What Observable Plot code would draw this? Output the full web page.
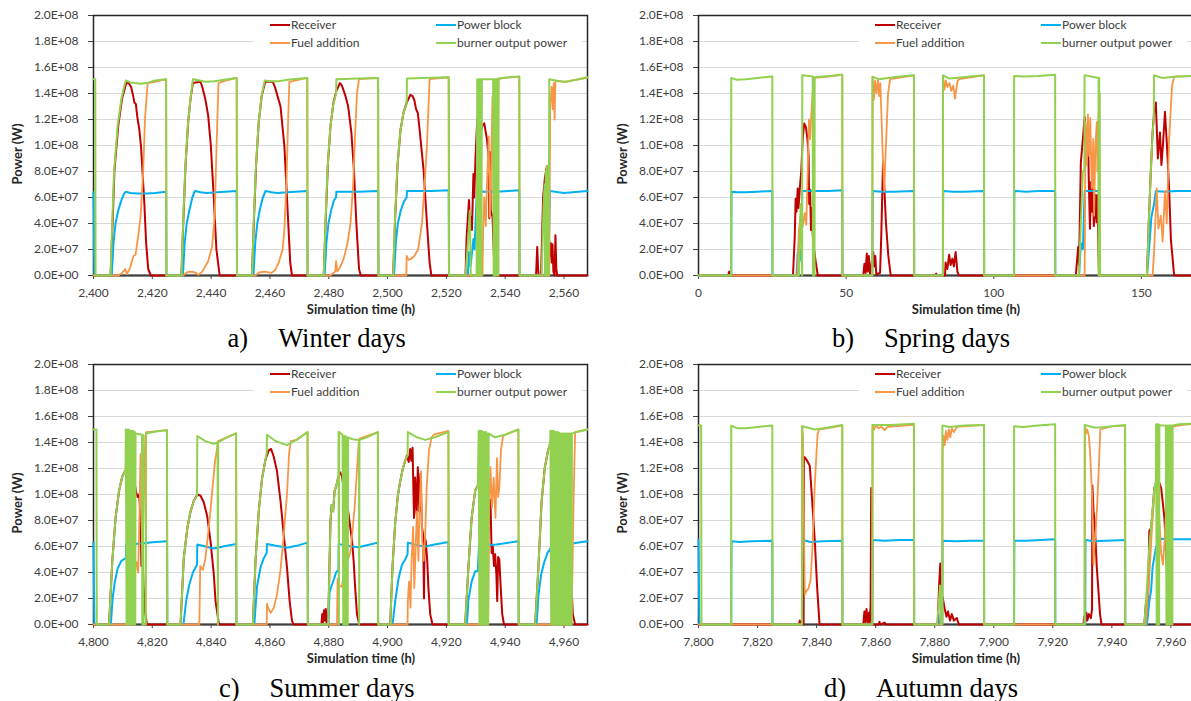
<!DOCTYPE html>
<html>
<head>
<meta charset="utf-8">
<script src="https://cdn.jsdelivr.net/npm/d3@7"></script>
<script src="https://cdn.jsdelivr.net/npm/@observablehq/plot@0.6"></script>
<style>
  html, body { margin: 0; padding: 0; background: #fff; }
  body { width: 1191px; height: 701px; overflow: hidden; position: relative; font-family: Lato, "Open Sans", sans-serif; }
  .panel { position: absolute; }
  .panel svg { max-width: none !important; }
  .legend { position: absolute; background: #fff; height: 34px; width: 328px; }
  .sw { position: absolute; width: 20px; height: 2px; }
  .lt { position: absolute; font-size: 12px; color: #404040; line-height: 16px; white-space: nowrap; }
  .ytitle { position: absolute; font-weight: bold; font-size: 13px; color: #262626; transform: translate(-50%, -50%) rotate(-90deg); white-space: nowrap; }
  .xtitle { position: absolute; font-weight: bold; font-size: 13px; color: #262626; transform: translate(-50%, -50%); white-space: nowrap; }
  .caption { position: absolute; width: 440px; text-align: center; font-family: "Liberation Serif", "Times New Roman", serif; font-size: 26.5px; line-height: 30px; color: #000; white-space: nowrap; }
  .caption .gap { display: inline-block; width: 30px; }
</style>
</head>
<body>
<script>
// ---------------- data (power values in units of 1E+07 W) ----------------
const seriesNames = ["Receiver", "Power block", "Fuel addition", "burner output power"];
const seriesColors = ["#c00000", "#00b0f0", "#f79646", "#92d050"];
const powerTicks = [0, 2e7, 4e7, 6e7, 8e7, 1e8, 1.2e8, 1.4e8, 1.6e8, 1.8e8, 2e8];
const gridPower = [2e7, 4e7, 6e7, 8e7, 1e8, 1.2e8, 1.4e8, 1.6e8, 1.8e8];
const winterHours = [2400, 2420, 2440, 2460, 2480, 2500, 2520, 2540, 2560];
const springHours = [0, 50, 100, 150];
const summerHours = [4800, 4820, 4840, 4860, 4880, 4900, 4920, 4940, 4960];
const autumnHours = [7800, 7820, 7840, 7860, 7880, 7900, 7920, 7940, 7960];
const captionLetters = ["a)", "b)", "c)", "d)"];
const captionTexts = ["Winter days", "Spring days", "Summer days", "Autumn days"];

// ----- a) Winter -----
const winterReceiver = [
[2400,0],[2405.8,0],[2406.5,4],[2407.1,8],[2408.4,11.5],[2409.7,13.6],[2411.0,14.7],[2411.7,14.9],[2412.8,14.5],[2413.5,13.8],[2413.9,13.3],[2414.4,13.2],[2414.9,12.2],[2415.6,11.2],[2416.2,9.8],[2416.8,7.5],[2417.3,5.5],[2417.9,2.5],[2418.6,0.5],[2419.5,0],
[2429.9,0],[2430.6,4.5],[2431.3,8.5],[2432.2,11.8],[2433.0,13.6],[2433.8,14.8],[2436.4,14.9],[2437.0,14.5],[2438.0,13.6],[2439.0,12.3],[2439.9,10],[2440.9,6],[2441.8,2],[2442.9,0],
[2453.9,0],[2454.6,4.5],[2455.3,8.5],[2456.2,11.8],[2457.2,13.8],[2458.4,14.9],[2461.0,14.9],[2461.7,14.5],[2462.6,13.8],[2463.6,13.0],[2464.9,10],[2465.8,6],[2466.9,1],[2467.5,0],
[2478.3,0],[2479.0,4.5],[2479.7,8.5],[2480.6,11.5],[2481.6,13.3],[2482.6,14.2],[2483.8,14.8],[2484.5,14.6],[2485.1,14.2],[2485.7,13.8],[2486.6,13.0],[2487.7,11.0],[2488.6,8.0],[2489.4,4.0],[2490.3,0.5],[2490.9,0],
[2501.9,0],[2502.6,4.5],[2503.4,8.5],[2504.4,11.2],[2505.5,12.6],[2506.5,13.3],[2507.8,13.9],[2508.5,13.8],[2509.1,13.5],[2509.7,12.8],[2510.3,12.5],[2511.0,11.0],[2512.3,8.0],[2513.4,4.0],[2514.3,1.0],[2514.9,0],
[2526.5,0],[2526.9,3],[2527.7,5.8],[2528.0,4.2],[2528.3,4.5],[2528.7,3.5],[2529.2,7.8],[2529.5,6.0],[2529.9,9],[2530.5,12.0],[2530.9,11.5],[2531.6,11.0],[2532.2,11.5],[2532.9,11.7],[2533.4,11.0],[2533.8,10.5],[2534.4,9.0],[2534.6,4.4],[2534.8,9.5],[2535.1,5.0],[2535.7,4.5],[2536.1,2.0],[2536.4,0.5],[2537,0],
[2550.5,0],[2550.9,2.2],[2551.2,0.5],[2551.4,0],[2552.2,0],[2552.9,6.0],[2553.5,7.5],[2554.2,8.4],[2554.5,8.0],[2554.8,3],[2555.2,1.5],[2555.5,2.5],[2555.8,1.0],[2556.1,2.4],[2556.4,0.3],[2556.8,0],[2557.1,3.1],[2557.4,0.5],[2557.7,0],[2568,0]
];
const winterPowerBlock = [
[2400,6.4],[2400.3,0],[2406.2,0],[2406.8,2.5],[2407.5,4.0],[2408.4,5.0],[2409.5,5.8],[2410.4,6.3],[2411.0,6.45],[2412.5,6.35],[2415,6.3],[2418,6.3],[2421,6.35],[2424.7,6.45],[2424.8,0],
[2430.4,0],[2431.0,2.5],[2431.7,4.0],[2432.6,5.0],[2433.6,6.0],[2434.5,6.5],[2436.5,6.4],[2438.5,6.35],[2442,6.4],[2448.7,6.5],[2448.8,0],
[2454.4,0],[2455.0,2.5],[2455.7,4.0],[2456.6,5.1],[2457.6,6.0],[2458.5,6.5],[2460.5,6.4],[2462.5,6.35],[2466,6.4],[2472.7,6.5],[2472.8,0],
[2478.6,0],[2479.2,2.5],[2479.9,4.0],[2480.8,5.0],[2481.8,5.8],[2482.5,6.0],[2482.6,6.45],[2486,6.45],[2490,6.45],[2496.8,6.5],[2496.9,0],
[2502.2,0],[2502.8,2.5],[2503.5,4.0],[2504.5,5.0],[2505.6,5.7],[2506.5,6.0],[2506.6,6.5],[2510,6.5],[2515,6.5],[2520.8,6.55],[2520.9,0],
[2527.3,0],[2527.7,1.8],[2528.2,0.7],[2528.6,1.5],[2529.2,2.8],[2529.6,2.0],[2530.0,4.5],[2530.4,6.5],[2533,6.45],[2537,6.45],[2541,6.5],[2544.8,6.55],[2544.9,0],
[2553.6,0],[2554.0,2.2],[2554.4,3.0],[2554.8,1.5],[2555.2,6.5],[2557,6.45],[2560,6.35],[2563,6.4],[2568,6.5]
];
const winterFuel = [
[2400,0],[2408.4,0],[2409.7,0.2],[2410.8,0.5],[2411.3,0.1],[2412.3,0.5],[2413.6,1.5],[2414.3,1.6],[2415.2,3.0],[2416.0,4.5],[2416.9,8],[2417.5,12],[2418.4,14.8],[2421,14.9],[2424.7,15.1],[2424.8,0],
[2430.5,0],[2431.5,0.2],[2432.5,0.3],[2434.4,0.25],[2435.7,0.05],[2437.0,0.3],[2439.0,1.1],[2440.3,2.2],[2441.2,4.5],[2441.8,9.6],[2442.5,14.8],[2445,15.0],[2448.7,15.2],[2448.8,0],
[2455,0],[2456.5,0.25],[2458.4,0.3],[2460.4,0.2],[2461.7,0.4],[2463.0,1.0],[2464.3,2.0],[2464.9,3.5],[2465.6,7],[2466.2,12],[2466.6,14.9],[2472.7,15.2],[2472.8,0],
[2480.5,0],[2482.2,0.3],[2482.5,1.1],[2482.9,0.3],[2483.8,0.6],[2485.1,1.3],[2486.4,2.5],[2487.4,4],[2488.3,7],[2489,11],[2489.6,14],[2490.3,15.1],[2496.8,15.2],[2496.9,0],
[2505.2,0],[2506.4,0],[2506.5,1.5],[2507.2,1.2],[2507.8,1.25],[2509.1,1.5],[2510.4,2.0],[2511.7,4],[2512.6,7],[2513.4,10],[2514.3,15.1],[2520.8,15.25],[2520.9,0],
[2532.3,0],[2532.5,3.5],[2532.9,6],[2533.4,3.8],[2533.8,7],[2534.4,10.7],[2534.8,4.5],[2535.2,8],[2535.7,13.8],[2536.1,5],[2536.5,9],[2537.0,15.1],[2540,15.2],[2544.8,15.3],[2544.9,0],
[2555.0,0],[2555.3,13],[2555.8,14.5],[2556.2,12.8],[2556.5,14.8],[2556.8,12],[2557.1,15.0],[2560,14.9],[2568,15.2]
];
const winterBurner = [
[2400,15.1],[2400.6,15.1],[2400.7,0],[2405.8,0],[2406.4,4.2],[2407.0,8],[2408.2,11.5],[2409.5,13.6],[2410.5,14.6],[2411.0,15.0],[2412.5,14.85],[2414,14.8],[2416,14.75],[2418,14.8],[2421,15.0],[2424.7,15.1],[2424.8,0],
[2429.9,0],[2430.5,4.2],[2431.2,8.2],[2432.1,11.6],[2433.0,13.6],[2433.8,15.1],[2436,15.0],[2438,14.9],[2441,14.95],[2448.7,15.2],[2448.8,0],
[2453.9,0],[2454.5,4.2],[2455.2,8.2],[2456.1,11.6],[2457.1,13.7],[2458.2,15.0],[2460,14.95],[2463,14.95],[2466,15.05],[2472.7,15.2],[2472.8,0],
[2478.3,0],[2478.9,4.2],[2479.6,8.2],[2480.5,11.3],[2481.5,13.1],[2482.5,14.0],[2482.6,15.1],[2490,15.15],[2496.8,15.2],[2496.9,0],
[2501.9,0],[2502.5,4.2],[2503.3,8.2],[2504.3,11.0],[2505.4,12.5],[2506.5,13.2],[2506.6,15.15],[2512,15.2],[2520.8,15.25],[2520.9,0],
[2526.5,0],[2527.3,2.5],[2528.0,5.0],[2528.3,0],[2530.3,0],[2530.5,15.1],[2530.7,0],[2530.9,15.1],[2531.1,0],[2531.3,15.1],[2531.5,0],[2531.7,15.1],[2531.9,0],[2532.1,15.1],[2535.9,15.1],[2536.1,0],[2536.3,15.1],[2536.5,0],[2536.7,15.1],[2536.9,0],[2537.1,15.1],[2537.3,0],[2537.5,15.1],[2537.7,0],[2537.8,15.15],[2541,15.25],[2544.8,15.3],[2544.9,0],
[2552.4,0],[2553.0,5],[2553.4,7],[2553.6,0],[2553.8,8],[2554.0,0],[2554.2,8.4],[2554.4,0],[2554.6,7],[2554.8,0],[2555.0,15.1],[2558,14.95],[2561,14.9],[2564,15.05],[2568,15.25]
];

// ----- b) Spring -----
const springReceiver = [
[0,0],[10.0,0],[10.4,0.3],[10.8,0],[32.0,0],[32.6,3],[32.9,5.9],[33.2,4.9],[33.6,6.7],[33.9,5.2],[34.3,6.7],[34.8,8],[35.3,10.5],[35.8,11.7],[36.4,11.4],[36.9,10.5],[37.3,9.2],[37.5,5.5],[37.8,6.6],[38.1,3.5],[38.4,5.2],[38.7,3.1],[39.1,2.1],[39.6,1.2],[40.4,0],
[55.8,0],[56.2,0.9],[56.6,0.2],[57.0,1.7],[57.3,0.3],[57.7,1.5],[58.1,0.1],[59.2,1.8],[59.5,0.7],[59.9,1.5],[60.2,0.1],[61.5,0.2],[61.9,3],[62.5,8.7],[62.9,7],[63.5,4],[64.3,1.5],[65.1,0],
[80.2,0],[80.5,0.15],[80.8,0],[83.5,0],[83.7,1.0],[84.3,0.5],[84.9,1.6],[85.4,0.8],[86.0,1.3],[86.5,0.7],[87.1,1.8],[87.7,0.3],[88.2,0],
[127.8,0],[128.6,2.2],[128.9,0.8],[129.5,8.7],[130.2,10.5],[130.8,12.2],[131.3,9.8],[131.6,10.5],[131.9,11.5],[132.2,7.2],[132.6,3.6],[132.9,7.2],[133.2,4.9],[133.6,6.7],[133.9,3.8],[134.4,6.2],[134.8,4.1],[135.1,6.2],[135.6,0.5],[136.0,0],
[151.9,0],[152.5,4],[153.2,8],[153.8,11],[154.3,12.5],[154.9,13.3],[155.6,9],[156.3,11],[156.8,8.5],[157.3,10],[158.0,12.6],[158.6,10.3],[159.0,8.5],[159.4,6.7],[160.0,2.8],[161.1,0],[168,0]
];
const springPowerBlock = [
[0,0],[11.1,0],[11.15,5.2],[11.2,6.45],[13,6.4],[16,6.4],[20,6.45],[25,6.5],[25.05,0],
[33.2,0],[33.6,1.7],[34.0,2.2],[34.3,1.2],[34.6,2.0],[35.0,1.0],[35.1,6.5],[40,6.5],[44,6.5],[48.7,6.55],[48.75,0],
[58.9,0],[58.95,5.2],[59.1,6.5],[62,6.45],[66,6.45],[73,6.5],[73.05,0],
[82.8,0],[82.85,5.5],[82.9,6.5],[86,6.45],[90,6.45],[96.7,6.5],[96.75,0],
[106.9,0],[106.95,5.3],[107.0,6.5],[111,6.45],[115,6.5],[120.8,6.5],[120.85,0],
[128.9,0],[129.5,2.5],[130.2,2.0],[130.8,6.5],[133,6.5],[135.6,6.5],[135.7,0],
[151.9,0],[152.6,2.0],[153.4,4.5],[154.3,5.5],[154.9,6.5],[158,6.45],[162,6.5],[168,6.5]
];
const springFuel = [
[0,0],[33.5,0],[34.0,3.5],[34.5,4.5],[35.3,3.8],[36.0,4.8],[36.5,3.9],[37.0,8],[37.4,12],[37.8,10.5],[38.3,12.8],[38.8,14.5],[39.4,15.2],[44,15.3],[48.7,15.45],[48.75,0],
[58.9,0],[59.0,15.2],[59.4,13.5],[59.8,15.0],[60.3,14.0],[60.8,15.1],[61.2,13.8],[61.6,14.8],[62.3,10],[62.9,6.5],[63.5,10],[64.2,14],[64.9,15.1],[73,15.4],[73.05,0],
[82.8,0],[82.85,15.3],[83.3,14.3],[83.8,15.0],[84.3,14.5],[85.0,14.8],[85.6,14.2],[86.3,14.6],[86.9,13.6],[87.3,14.3],[87.8,15.0],[88.3,15.1],[96.7,15.4],[96.75,0],
[130.8,0],[131.1,11.8],[131.5,8.5],[131.9,12.4],[132.3,9.2],[132.7,12.1],[133.2,6.7],[133.7,10.5],[134.0,4.6],[134.4,9.7],[134.9,11.8],[135.1,8],[135.5,12.5],[135.6,0],
[153.8,0],[154.3,1.8],[155.2,6.7],[155.8,3.6],[156.6,4.6],[157.2,2.6],[158.0,6.5],[158.6,4.0],[159.4,10.5],[160.4,14.6],[161.1,15.3],[168,15.35]
];
const springBurner = [
[0,0],[11.05,0],[11.1,15.2],[13,15.05],[16,15.1],[20,15.2],[25,15.3],[25.05,0],
[34.0,0],[34.6,5.5],[35.0,2],[35.1,0],[35.15,15.4],[38.7,15.3],[38.75,0],[39.3,0],[39.35,15.25],[44,15.35],[48.7,15.45],[48.75,0],
[58.85,0],[58.9,15.3],[61,15.1],[63,15.15],[68,15.3],[73,15.4],[73.05,0],
[82.75,0],[82.8,15.4],[85,15.15],[87,15.2],[92,15.3],[96.7,15.4],[96.75,0],
[106.85,0],[106.9,15.35],[110,15.3],[115,15.35],[120.8,15.45],[120.85,0],
[128.9,0],[129.5,4],[130.2,8],[130.7,8.1],[130.75,15.4],[133,15.3],[135.5,15.2],[135.55,0],[135.7,15.2],[135.8,0],[135.9,14],[136.0,0],
[151.9,0],[152.5,4],[153.2,8],[153.8,11],[154.2,12],[154.3,15.4],[157,15.2],[162,15.3],[168,15.35]
];

// ----- c) Summer -----
const summerReceiver = [
[4800,0],[4805.3,0],[4806.4,4.9],[4807.5,8.2],[4808.7,10.3],[4809.8,11.4],[4811,11.9],[4812,12.0],[4813,11.5],[4814,10.9],[4814.5,10.2],[4815,9.8],[4815.5,10.0],[4816,8.5],[4816.3,4.5],[4816.6,6.0],[4817.0,3.0],[4817.5,1.0],[4818.2,0],
[4829.6,0],[4830.7,5.1],[4831.9,7.4],[4833,8.7],[4834.1,9.5],[4835.3,10.0],[4836.4,9.9],[4837.5,9.4],[4838.7,8.3],[4839.8,6.4],[4840.9,3.9],[4841.5,1.8],[4842.6,0.1],[4843,0],
[4854.2,0],[4855.1,4.9],[4856.2,8.7],[4857.3,11.2],[4858.5,12.7],[4859.6,13.4],[4860.4,13.5],[4861.3,12.9],[4862.4,11.8],[4863.6,9.5],[4864.7,6.9],[4865.8,4.4],[4866.7,1.8],[4867.5,0.3],[4868,0],
[4877.5,0],[4877.8,0.8],[4878.1,0.2],[4878.4,1.1],[4878.7,0.3],[4879.0,1.2],[4879.3,0],[4879.8,0],[4880.2,4],[4880.6,8.0],[4881.0,9.2],[4881.5,8.7],[4882.0,10.3],[4882.5,10.6],[4883.3,11.4],[4883.9,11.7],[4884.5,11.4],[4885.2,10.3],[4885.8,9.8],[4886.5,8.9],[4887.3,7.5],[4887.9,6.5],[4888.5,4.8],[4889.0,2.8],[4889.6,0.8],[4890.4,0],
[4900.9,0],[4901.7,4.5],[4902.6,7.8],[4903.5,9.9],[4904.3,11.0],[4905.2,12.0],[4906.0,12.6],[4906.6,13.0],[4907.2,12.5],[4907.7,13.5],[4908.1,12.6],[4908.5,13.6],[4909.0,8.2],[4909.4,11.3],[4909.9,8.5],[4910.3,12.1],[4910.8,8.7],[4911.2,11.6],[4911.7,7.5],[4912.1,6.9],[4912.4,2.0],[4912.6,6.7],[4913.0,6.4],[4913.5,4.9],[4913.9,2.8],[4914.5,0.8],[4915.3,0],
[4926.4,0],[4927.5,4.4],[4928.6,8.2],[4929.8,10.3],[4930.7,10.7],[4931.3,10.5],[4932,10.2],[4933,9.8],[4934.0,9.5],[4934.6,8.0],[4935.0,9.6],[4935.4,5.5],[4935.8,6.0],[4936.2,4.5],[4936.6,5.4],[4937.0,3.9],[4937.3,1.8],[4937.6,5.2],[4938.0,5.0],[4938.5,2.8],[4939.0,0.8],[4939.6,0],
[4950.2,0],[4951.3,4.4],[4952.4,9.5],[4953.5,12.1],[4954.6,13.4],[4955.5,14.0],[4957,14.3],[4959,13],[4961,9],[4962.4,3.9],[4963.0,0.8],[4963.8,0],[4968,0]
];
const summerPowerBlock = [
[4800,6.3],[4800.3,0],[4805.9,0],[4806.5,2.0],[4807.2,3.2],[4808.2,4.3],[4809.5,4.9],[4811,5.1],[4811.1,6.2],[4814,6.2],[4817,6.25],[4821,6.35],[4825,6.4],[4825.1,0],
[4830.6,0],[4831.5,1.8],[4832.5,3.0],[4833.8,4.0],[4835.2,4.6],[4835.3,6.15],[4838,6.0],[4840.9,5.85],[4844,6.0],[4848.5,6.2],[4848.6,0],
[4854.7,0],[4855.6,2.9],[4856.8,4.4],[4857.9,5.1],[4858.9,5.5],[4859.0,6.2],[4862,6.05],[4865.8,5.9],[4869,6.05],[4872.8,6.3],[4872.9,0],
[4879.8,0],[4880.3,2.5],[4881,3.0],[4881.8,3.5],[4882.5,4.0],[4883.3,4.2],[4883.4,6.2],[4886,6.05],[4890,5.95],[4893,6.1],[4896.7,6.3],[4896.8,0],
[4901.7,0],[4902.6,1.8],[4903.8,3.6],[4904.9,4.6],[4906.0,5.0],[4906.8,5.4],[4906.9,6.3],[4910,6.1],[4912.8,6.0],[4916,6.15],[4920.7,6.35],[4920.8,0],
[4927,0],[4927.5,1.9],[4928.6,3.3],[4929.8,4.1],[4930.7,4.1],[4931.1,6.1],[4934.4,6.1],[4937,6.15],[4940,6.25],[4944.5,6.4],[4944.6,0],
[4950.7,0],[4951.3,2.2],[4952.2,3.8],[4953.3,4.8],[4954.4,5.5],[4955.5,5.9],[4956,1.5],[4956.2,6.0],[4958,6.1],[4959,1.0],[4959.2,6.15],[4962,6.2],[4965,6.3],[4968,6.4]
];
const summerFuel = [
[4800,0],[4813.5,0],[4814,4.2],[4814.6,4.8],[4815.2,4.0],[4815.6,8],[4816.0,13.1],[4816.3,9.0],[4816.6,5.5],[4817.0,8],[4817.6,14.5],[4818,14.8],[4821,14.85],[4825,14.95],[4825.1,0],
[4836.0,0],[4836.3,4.5],[4837.2,4.2],[4838.0,5.0],[4839.0,7.0],[4840.2,9.8],[4841.3,12.5],[4842.4,14.1],[4845,14.35],[4848.5,14.7],[4848.6,0],
[4858.9,0],[4859.0,1.6],[4859.5,1.2],[4860.3,0.9],[4861.3,1.3],[4862.4,2.3],[4863.6,4.2],[4864.7,6.9],[4865.8,10.0],[4866.5,13.1],[4867.1,14.1],[4869,14.2],[4872.8,14.8],[4872.9,0],
[4882.8,0],[4883.0,3.5],[4883.6,3.0],[4884.4,2.9],[4885.2,3.8],[4886.2,4.8],[4887.3,5.5],[4888.0,7],[4888.8,9],[4889.5,11.5],[4890.2,14.0],[4890.5,14.3],[4896.7,14.8],[4896.8,0],
[4906.8,0],[4906.9,1.8],[4907.3,3.3],[4907.8,1.3],[4908.2,5.1],[4908.7,7.5],[4909.1,2.8],[4909.6,6.2],[4910.0,8.7],[4910.5,4.9],[4910.9,9.0],[4911.4,11.8],[4911.8,6.4],[4912.3,4.9],[4912.8,6.9],[4913.3,10.5],[4914.1,13.4],[4915.0,14.4],[4915.7,14.6],[4920.7,14.9],[4920.8,0],
[4934.2,0],[4934.6,9.5],[4935.0,12.1],[4935.5,9.0],[4936.1,11.3],[4936.7,8.2],[4937.2,12.8],[4937.6,9.8],[4938.0,10.5],[4938.6,13.5],[4939.3,14.5],[4940,14.6],[4944.5,15.0],[4944.6,0],
[4962.5,0],[4962.8,3],[4963.3,10],[4963.8,14.8],[4968,15.0]
];
const summerBurner = [
[4800,15.0],[4801.0,15.0],[4801.1,0],[4805.3,0],[4806.4,4.9],[4807.5,8.2],[4808.7,10.3],[4809.8,11.4],[4810.9,11.9],
[4811.0,15.0],[4811.25,0],[4811.5,15.0],[4811.75,0],[4812.0,15.0],[4812.25,0],[4812.5,14.9],[4812.75,0],[4813.0,14.9],[4813.25,0],[4813.5,14.9],[4813.75,0],[4814.0,14.8],[4814.2,0],[4814.3,14.7],
[4816.5,14.6],[4816.6,0],[4816.8,14.6],[4817.0,0],[4817.8,0],[4817.9,14.7],[4821,14.85],[4825,14.95],[4825.1,0],
[4829.6,0],[4830.7,5.1],[4831.9,7.4],[4833,8.7],[4834.1,9.5],[4835.2,9.9],[4835.3,14.5],[4838,14.1],[4840.9,13.9],[4842.2,14.0],[4842.3,0],[4842.4,14.0],[4845,14.35],[4848.5,14.7],[4848.6,0],
[4854.2,0],[4855.1,4.9],[4856.2,8.7],[4857.3,11.2],[4858.5,12.7],[4858.9,13.2],[4859.0,14.6],[4862,14.1],[4865.8,13.8],[4869,14.2],[4872.8,14.8],[4872.9,0],
[4879.8,0],[4880.2,4],[4880.6,8.0],[4881.0,9.2],[4881.5,8.7],[4882.0,10.3],[4882.5,10.6],[4883.3,11.4],[4883.35,14.8],[4883.45,0],[4883.55,14.8],[4884.7,14.6],
[4884.95,0],[4885.2,14.5],[4885.45,0],[4885.7,14.5],[4885.95,0],[4886.2,14.4],[4886.45,0],[4886.6,14.4],
[4888,14.25],[4890.3,14.2],[4890.35,0],[4890.45,14.2],[4893,14.4],[4896.7,14.8],[4896.8,0],
[4900.9,0],[4901.7,4.5],[4902.6,7.8],[4903.5,9.9],[4904.3,11.0],[4905.2,12.0],[4906.0,12.6],[4906.8,13.0],[4906.9,14.8],[4910,14.4],[4912.8,14.2],[4916,14.4],[4920.7,14.8],[4920.8,0],
[4926.4,0],[4927.5,4.4],[4928.6,8.2],[4929.8,10.3],[4930.7,10.7],[4931.0,14.9],
[4931.25,0],[4931.5,14.9],[4931.75,0],[4932.0,14.9],[4932.25,0],[4932.5,14.8],[4932.75,0],[4933.0,14.8],[4933.25,0],[4933.5,14.8],[4933.75,0],[4934.0,14.7],[4934.2,0],[4934.4,14.7],
[4936.5,14.4],[4940,14.6],[4944.5,15.0],[4944.6,0],
[4950.2,0],[4951.3,4.4],[4952.4,9.5],[4953.5,12.1],[4954.6,13.4],[4955.3,14.0],
[4955.4,14.9],[4955.65,0],[4955.9,14.9],[4956.15,0],[4956.4,14.9],[4956.65,0],[4956.9,14.85],[4957.15,0],[4957.4,14.8],[4957.65,0],[4957.9,14.8],[4958.15,0],[4958.4,14.75],[4958.65,0],[4958.9,14.7],[4959.15,0],[4959.4,14.7],[4959.65,0],[4959.9,14.7],[4960.15,0],[4960.4,14.7],[4960.65,0],[4960.9,14.7],[4961.15,0],[4961.4,14.7],[4961.65,0],[4961.9,14.7],[4962.15,0],[4962.4,14.7],[4962.6,0],[4962.7,14.7],[4965,14.85],[4968,15.0]
];

// ----- d) Autumn -----
const autumnReceiver = [
[7800,0],[7834.0,0],[7834.3,0.3],[7834.6,0],[7835.6,0],[7835.7,12.9],[7836.2,12.8],[7836.8,12.6],[7837.7,12.2],[7838.5,9.5],[7839.4,6.4],[7840.2,2.8],[7841.0,0],
[7855.8,0],[7856.2,1.0],[7856.5,0.2],[7856.9,1.2],[7857.3,0],[7857.7,0.9],[7858.0,0.2],[7858.3,1.5],[7858.5,10.5],[7858.7,0],[7861,0],[7861.3,0.2],[7861.6,0],[7863,0.15],[7863.4,0],
[7881.0,0],[7881.5,3],[7881.9,4.7],[7882.3,1.0],[7882.7,2.1],[7883.3,1.3],[7884.0,0.6],[7884.5,1.0],[7885.2,0.3],[7885.8,0.8],[7886.5,0.3],[7887.5,0.5],[7888.2,0],
[7930.4,0],[7930.6,0.6],[7931.0,0.2],[7931.4,0.9],[7931.7,0.3],[7932.2,0.8],[7932.9,0.5],[7933.3,1.2],[7933.4,10.7],[7933.8,8.7],[7934.2,7.9],[7934.6,5.9],[7934.9,4.4],[7935.4,2.8],[7936.0,0.8],[7936.5,0],
[7951.0,0],[7951.6,1.8],[7952.2,1.0],[7952.7,7.2],[7953.3,7.4],[7953.8,8.7],[7954.4,10.5],[7955.3,11.0],[7956.1,10.9],[7956.7,10.5],[7957.2,9.5],[7957.8,8.2],[7958.4,5.7],[7958.9,2.8],[7960.1,0],[7968,0]
];
const autumnPowerBlock = [
[7800,6.5],[7800.3,0],[7811.1,0],[7811.15,5.3],[7811.2,6.4],[7814,6.35],[7818,6.4],[7825,6.45],[7825.05,0],
[7835.1,0],[7835.15,5.1],[7835.2,6.5],[7838,6.35],[7842,6.4],[7848.7,6.45],[7848.75,0],
[7858.9,0],[7859.0,6.5],[7863,6.45],[7868,6.5],[7873,6.5],[7873.05,0],
[7881.8,0],[7882.0,0.9],[7882.2,0],[7882.6,0],[7882.65,6.45],[7887,6.4],[7892,6.45],[7896.7,6.45],[7896.75,0],
[7906.9,0],[7906.95,5.1],[7907.0,6.45],[7911,6.45],[7916,6.5],[7920.8,6.55],[7920.85,0],
[7931.0,0],[7931.05,5.5],[7931.1,6.5],[7934,6.4],[7938,6.45],[7944.5,6.5],[7944.55,0],
[7951.9,0],[7952.7,1.8],[7953.3,2.6],[7953.8,4.4],[7954.9,5.9],[7956.1,6.6],[7960,6.55],[7964,6.55],[7968,6.55]
];
const autumnFuel = [
[7800,0],[7835.0,0],[7835.1,15.2],[7835.4,14.5],[7835.7,8],[7836.0,2.3],[7836.6,2.6],[7837.3,2.8],[7838.0,3.5],[7838.6,6],[7839.4,10.8],[7840.3,14.6],[7840.8,15.0],[7848.7,15.3],[7848.75,0],
[7858.9,0],[7859.0,15.3],[7859.5,15.0],[7860.0,15.3],[7861.0,15.1],[7862,15.2],[7863,14.95],[7864,15.2],[7873,15.35],[7873.05,0],
[7882.6,0],[7882.7,13.4],[7883.0,14.5],[7883.4,13.8],[7883.8,14.9],[7884.3,14.2],[7884.8,15.0],[7885.3,14.4],[7885.8,15.1],[7886.5,14.8],[7887.5,15.2],[7896.7,15.35],[7896.75,0],
[7930.8,0],[7930.9,15.3],[7931.3,14.7],[7931.7,15.0],[7932.2,14.5],[7932.6,13.4],[7933.4,9.5],[7933.8,4.6],[7934.2,6.4],[7934.6,7.4],[7935.1,9.5],[7935.6,12.1],[7936.1,15.0],[7940,15.25],[7944.5,15.3],[7944.55,0],
[7951.5,0],[7952.5,3],[7953.5,7],[7954.4,10],[7955.3,11.2],[7956.1,8],[7956.7,5.5],[7957.3,4.6],[7957.9,6.5],[7958.5,9.5],[7959.3,13],[7960.2,15.2],[7964,15.35],[7968,15.45]
];
const autumnBurner = [
[7800,15.3],[7800.9,15.3],[7801.0,0],[7811.05,0],[7811.1,15.3],[7813,15.1],[7816,15.1],[7820,15.2],[7825,15.3],[7825.05,0],
[7835.05,0],[7835.1,15.25],[7839.5,15.0],[7844,15.15],[7848.7,15.35],[7848.75,0],
[7858.85,0],[7858.9,15.35],[7865,15.35],[7873,15.45],[7873.05,0],
[7880.8,0],[7881.5,2],[7881.8,3],[7882.2,0],[7882.55,0],[7882.6,15.3],[7885,15.2],[7890,15.3],[7896.7,15.35],[7896.75,0],
[7906.85,0],[7906.9,15.25],[7910,15.2],[7915,15.3],[7920.8,15.4],[7920.85,0],
[7930.75,0],[7930.8,15.35],[7934,15.15],[7936.5,15.15],[7940,15.25],[7944.5,15.35],[7944.55,0],
[7951.0,0],[7951.6,1.8],[7952.7,6],[7953.5,8],[7954.4,10.5],[7954.9,11.0],[7955.0,15.4],[7955.2,0],[7955.4,15.4],[7955.6,0],[7955.8,15.4],[7956.0,0],[7956.1,15.35],[7957,15.3],[7958.3,15.3],[7958.5,0],[7958.7,15.3],[7958.9,0],[7959.1,15.3],[7959.3,0],[7959.5,15.3],[7959.7,0],[7959.9,15.3],[7960.1,0],[7960.3,15.3],[7960.5,0],[7960.6,15.3],[7963,15.4],[7968,15.45]
];

// ---------------- drawing ----------------
const sci = d => {
  if (d === 0) return "0.0E+00";
  const e = Math.floor(Math.log10(d) + 1e-9);
  const m = d / Math.pow(10, e);
  return m.toFixed(1) + "E+" + String(e).padStart(2, "0");
};

const panels = [
  {left: 0,   top: 0,   width: 600, ml: 93, mr: 13, domain: [2400, 2568], ticks: winterHours, series: [winterReceiver, winterPowerBlock, winterFuel, winterBurner], k: 0, capX: 316.7, capY: 338},
  {left: 600, top: 0,   width: 596, ml: 98, mr: 2,  domain: [0, 168],     ticks: springHours, series: [springReceiver, springPowerBlock, springFuel, springBurner], k: 1, capX: 921, capY: 338},
  {left: 0,   top: 349, width: 600, ml: 93, mr: 13, domain: [4800, 4968], ticks: summerHours, series: [summerReceiver, summerPowerBlock, summerFuel, summerBurner], k: 2, capX: 316.7, capY: 688},
  {left: 600, top: 349, width: 596, ml: 98, mr: 2,  domain: [7800, 7968], ticks: autumnHours, series: [autumnReceiver, autumnPowerBlock, autumnFuel, autumnBurner], k: 3, capX: 921, capY: 688}
];

const widths = [2, 2, 1.8, 2];

for (const p of panels) {
  const chart = Plot.plot({
    width: p.width,
    height: 300,
    marginLeft: p.ml,
    marginRight: p.mr,
    marginTop: 15,
    marginBottom: 25,
    style: {fontFamily: "Lato, 'Open Sans', sans-serif", fontSize: "12px", color: "#404040", background: "transparent", overflow: "visible", maxWidth: "none"},
    x: {domain: p.domain, ticks: p.ticks, tickFormat: d3.format(","), label: null, tickSize: 4, tickPadding: 9},
    y: {domain: [0, 2e8], ticks: powerTicks, tickFormat: sci, label: null, tickSize: 5, tickPadding: 10},
    marks: [
      Plot.ruleY(gridPower, {stroke: "#d9d9d9", strokeWidth: 1}),
      Plot.frame({stroke: "#262626", strokeWidth: 1.5}),
      Plot.ruleY([0], {stroke: "#404040", strokeWidth: 2}),
      ...p.series.map((s, i) => Plot.line(s, {x: d => d[0], y: d => d[1] * 1e7, stroke: seriesColors[i], strokeWidth: widths[i]}))
    ]
  });
  const wrap = document.createElement("div");
  wrap.className = "panel";
  wrap.style.left = p.left + "px";
  wrap.style.top = p.top + "px";
  wrap.style.width = p.width + "px";
  wrap.style.height = "300px";
  wrap.appendChild(chart);
  document.body.appendChild(wrap);

  const plotLeft = p.left + p.ml;
  const plotTop = p.top + 15;

  // legend
  const lg = document.createElement("div");
  lg.className = "legend";
  lg.style.left = (plotLeft + 161) + "px";
  lg.style.top = (plotTop + 2) + "px";
  const pos = [[16, 8], [182, 8], [16, 26], [182, 26]];
  seriesNames.forEach((name, i) => {
    const sw = document.createElement("div");
    sw.className = "sw";
    sw.style.background = seriesColors[i];
    sw.style.left = pos[i][0] + "px";
    sw.style.top = (pos[i][1] - 1) + "px";
    lg.appendChild(sw);
    const t = document.createElement("div");
    t.className = "lt";
    t.textContent = name;
    t.style.left = (pos[i][0] + 21) + "px";
    t.style.top = (pos[i][1] - 8) + "px";
    lg.appendChild(t);
  });
  document.body.appendChild(lg);

  // axis titles
  const yt = document.createElement("div");
  yt.className = "ytitle";
  yt.textContent = "Power (W)";
  yt.style.left = (p.left + (p.ml === 93 ? 17 : 22)) + "px";
  yt.style.top = (plotTop + 139) + "px";
  document.body.appendChild(yt);

  const xt = document.createElement("div");
  xt.className = "xtitle";
  xt.textContent = "Simulation time (h)";
  xt.style.left = (plotLeft + 268) + "px";
  xt.style.top = (plotTop + 294) + "px";
  document.body.appendChild(xt);

  // caption
  const cap = document.createElement("div");
  cap.className = "caption";
  cap.style.left = (p.capX - 220) + "px";
  cap.style.top = (p.capY - 15) + "px";
  const a = document.createElement("span");
  a.textContent = captionLetters[p.k];
  const g = document.createElement("span");
  g.className = "gap";
  const b = document.createElement("span");
  b.textContent = captionTexts[p.k];
  cap.appendChild(a); cap.appendChild(g); cap.appendChild(b);
  document.body.appendChild(cap);
}
</script>
</body>
</html>
